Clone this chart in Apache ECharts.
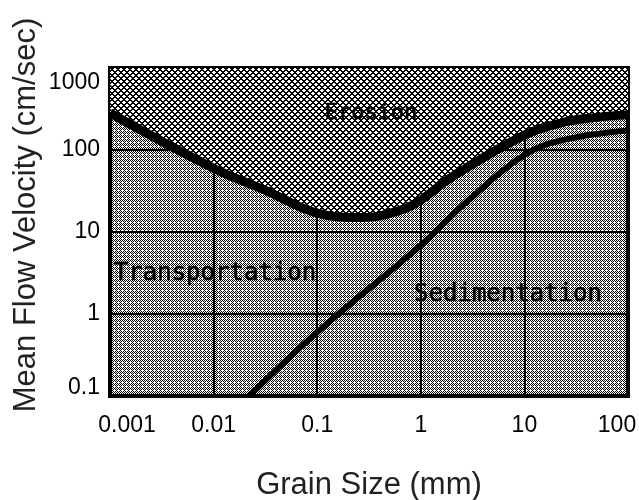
<!DOCTYPE html>
<html>
<head>
<meta charset="utf-8">
<script src="https://cdn.jsdelivr.net/npm/echarts@6/dist/echarts.min.js"></script>
<style>
  html, body { margin: 0; padding: 0; background: #fff; }
  #chart { width: 639px; height: 500px; }
</style>
</head>
<body>
<div id="chart"></div>
<script>
// grain size (mm) and velocity (cm/sec)
var erosionSize = [0.001, 0.01, 0.032, 0.1, 0.27, 0.65, 1, 2, 10, 24, 50, 100];
var erosionVel  = [283, 60, 32, 17, 15, 18.6, 24.5, 47, 152, 218, 250, 270];

var settleSize = [0.022, 0.1, 1, 2.9, 10, 24, 100];
var settleVel  = [0.1, 0.6, 6.9, 24.5, 87, 133, 173];

var xTicks = ['0.001', '0.01', '0.1', '1', '10', '100'];
var yTicks = ['0.1', '1', '10', '100', '1000'];

var regionNames = ['Erosion', 'Transportation', 'Sedimentation'];

// little dither tiles to look like the scanned screens
function makeTile(size, isDark) {
  var c = document.createElement('canvas');
  c.width = size; c.height = size;
  var ctx = c.getContext('2d');
  ctx.fillStyle = '#fff';
  ctx.fillRect(0, 0, size, size);
  ctx.fillStyle = '#000';
  for (var y = 0; y < size; y++) {
    for (var x = 0; x < size; x++) {
      if (isDark(x, y)) ctx.fillRect(x, y, 1, 1);
    }
  }
  return c;
}

var diamondTile = makeTile(6, function (x, y) {
  return ((x + y) % 6 < 2) || ((x - y + 12) % 6 < 2);
});
var dotTile = makeTile(4, function (x, y) {
  return (x + y) % 2 === 0 && !(x === 2 && y === 2);
});

function pairs(xs, ys) {
  return xs.map(function (x, i) { return [x, ys[i]]; });
}

function pickLabel(list, v) {
  var best = list[0], d = Infinity;
  list.forEach(function (t) {
    var dd = Math.abs(Math.log10(Number(t)) - Math.log10(v));
    if (dd < d) { d = dd; best = t; }
  });
  return best;
}

var chart = echarts.init(document.getElementById('chart'));

var labelFont = '"Liberation Sans", Arial, sans-serif';
var regionFont = '"DejaVu Sans Mono", monospace';

chart.setOption({
  animation: false,
  backgroundColor: '#fff',
  grid: {
    left: 110, right: 11, top: 68, bottom: 104,
    outerBoundsMode: 'none',
    containLabel: false,
    show: true,
    borderColor: '#000',
    borderWidth: 4,
    backgroundColor: { image: dotTile, repeat: 'repeat' }
  },
  xAxis: {
    type: 'log',
    logBase: 10,
    min: 0.001,
    max: 100,
    axisLine: { show: false },
    axisTick: { show: false },
    splitLine: { show: true, lineStyle: { color: '#000', width: 2 } },
    axisLabel: {
      color: '#000',
      fontSize: 23,
      fontFamily: labelFont,
      margin: 18,
      formatter: function (v) {
        var t = pickLabel(xTicks, v);
        if (t === xTicks[0]) return '{first|' + t + '}';
        if (t === xTicks[xTicks.length - 1]) return '{last|' + t + '}';
        return t;
      },
      rich: {
        first: { fontSize: 23, fontFamily: labelFont, color: '#000', padding: [0, 0, 0, 34] },
        last: { fontSize: 23, fontFamily: labelFont, color: '#000', padding: [0, 22, 0, 0] }
      }
    },
    name: 'Grain Size (mm)',
    nameLocation: 'middle',
    nameGap: 74,
    nameTextStyle: { fontSize: 31, color: '#222', fontFamily: labelFont }
  },
  yAxis: {
    type: 'log',
    logBase: 10,
    min: 0.1,
    max: 1000,
    axisLine: { show: false },
    axisTick: { show: false },
    splitLine: { show: true, lineStyle: { color: '#000', width: 2 } },
    axisLabel: {
      color: '#000',
      fontSize: 23,
      fontFamily: labelFont,
      margin: 10,
      formatter: function (v) {
        var t = pickLabel(yTicks, v);
        if (t === yTicks[0]) return '{low|' + t + '}';
        if (t === yTicks[yTicks.length - 1]) return '{high|' + t + '}';
        return t;
      },
      rich: {
        low: { fontSize: 23, fontFamily: labelFont, color: '#000', padding: [0, 0, 16, 0] },
        high: { fontSize: 23, fontFamily: labelFont, color: '#000', padding: [30, 0, 0, 0] }
      }
    }
  },
  graphic: [
    {
      type: 'text', x: 26, y: 215, rotation: Math.PI / 2,
      style: {
        text: 'Mean Flow Velocity (cm/sec)',
        font: '31px ' + labelFont,
        fill: '#222',
        align: 'center', verticalAlign: 'middle'
      }
    },
    {
      type: 'text', x: 371, y: 113, z: 10,
      style: { text: regionNames[0], font: '22px ' + regionFont, fill: '#000',
        stroke: '#000', lineWidth: 0.6, align: 'center', verticalAlign: 'middle' }
    },
    {
      type: 'text', x: 215, y: 274, z: 10,
      style: { text: regionNames[1], font: '24px ' + regionFont, fill: '#000',
        stroke: '#000', lineWidth: 0.6, align: 'center', verticalAlign: 'middle' }
    },
    {
      type: 'text', x: 508, y: 295, z: 10,
      style: { text: regionNames[2], font: '24px ' + regionFont, fill: '#000',
        stroke: '#000', lineWidth: 0.6, align: 'center', verticalAlign: 'middle' }
    }
  ],
  series: [
    {
      name: 'erosion',
      type: 'line',
      smooth: 0.4,
      symbol: 'none',
      data: pairs(erosionSize, erosionVel),
      lineStyle: { color: '#000', width: 9 },
      areaStyle: { origin: 'end', opacity: 1, color: { image: diamondTile, repeat: 'repeat' } }
    },
    {
      name: 'settling',
      type: 'line',
      smooth: 0.4,
      symbol: 'none',
      data: pairs(settleSize, settleVel),
      lineStyle: { color: '#000', width: 6 }
    }
  ]
});
</script>
</body>
</html>
